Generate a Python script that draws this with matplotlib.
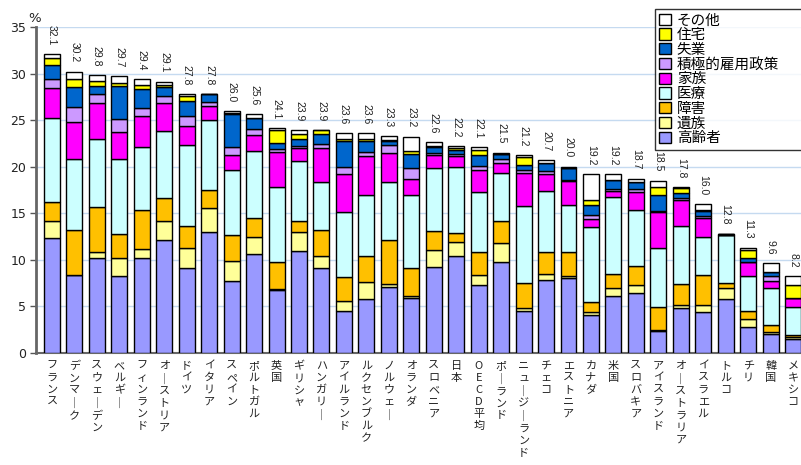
import matplotlib
matplotlib.use("Agg")
import matplotlib.pyplot as plt
import numpy as np

plt.rcParams['font.family'] = ['Noto Sans CJK JP', 'DejaVu Sans']

countries = ["フランス", "デンマーク", "スウェーデン", "ベルギー", "フィンランド",
             "オーストリア", "ドイツ", "イタリア", "スペイン", "ポルトガル", "英国",
             "ギリシャ", "ハンガリー", "アイルランド", "ルクセンブルク", "ノルウェー",
             "オランダ", "スロベニア", "日本", "OECD平均", "ポーランド",
             "ニュージーランド", "チェコ", "エストニア", "カナダ", "米国", "スロバキア",
             "アイスランド", "オーストラリア", "イスラエル", "トルコ", "チリ", "韓国",
             "メキシコ"]

totals = [32.1, 30.2, 29.8, 29.7, 29.4, 29.1, 27.8, 27.8, 26.0, 25.6, 24.1,
          23.9, 23.9, 23.6, 23.6, 23.3, 23.2, 22.6, 22.2, 22.1, 21.5, 21.2,
          20.7, 20.0, 19.2, 19.2, 18.7, 18.5, 17.8, 16.0, 12.8, 11.3, 9.6, 8.2]

# 高齢者
old_age = [12.3, 8.3, 10.2, 8.2, 10.2, 12.1, 9.1, 13.0, 7.7, 10.6, 6.7, 10.9,
           9.1, 4.5, 5.75, 7.1, 5.85, 9.25, 10.4, 7.3, 9.8, 4.5, 7.85, 8.0,
           4.05, 6.1, 6.4, 2.3, 4.85, 4.4, 5.8, 2.8, 2.0, 1.45]
# 遺族
survivors = [1.8, 0.0, 0.6, 2.0, 0.9, 2.0, 2.1, 2.6, 2.2, 1.8, 0.1, 2.1, 1.3,
             1.1, 1.9, 0.25, 0.25, 1.75, 1.5, 1.05, 2.0, 0.3, 0.65, 0.2, 0.35,
             0.8, 0.9, 0.1, 0.3, 0.75, 1.2, 0.8, 0.25, 0.25]
# 障害
disability = [2.1, 4.9, 4.9, 2.55, 4.2, 2.5, 2.45, 1.9, 2.7, 2.1, 3.0, 1.2,
              2.8, 2.5, 2.75, 4.8, 3.0, 2.1, 0.95, 2.45, 2.3, 2.7, 2.3, 2.6,
              1.0, 1.55, 2.0, 2.5, 2.25, 3.25, 0.5, 0.9, 0.75, 0.2]
# 医療
health = [9.0, 7.6, 7.3, 8.05, 6.8, 7.2, 8.65, 7.5, 7.0, 7.2, 8.0, 6.45, 5.1,
          7.0, 6.6, 6.15, 7.9, 6.8, 7.15, 6.45, 5.2, 8.3, 6.6, 5.1, 8.1, 8.25,
          6.0, 6.3, 6.25, 4.0, 5.2, 3.75, 4.0, 3.0]
# 家族
family = [3.2, 4.0, 3.8, 2.9, 3.3, 3.0, 2.1, 1.5, 1.6, 1.65, 3.75, 1.3, 3.7,
          4.15, 4.1, 3.2, 1.7, 1.3, 1.1, 2.4, 1.1, 3.5, 1.85, 2.5, 0.9, 0.65,
          2.0, 3.9, 2.75, 2.1, 0.0, 1.45, 0.7, 0.95]
# 積極的雇用政策
almp = [1.0, 1.6, 1.0, 1.4, 0.9, 0.8, 1.0, 0.4, 0.9, 0.65, 0.35, 0.25, 0.4,
        0.75, 0.45, 0.8, 1.15, 0.3, 0.3, 0.45, 0.4, 0.3, 0.25, 0.2, 0.4, 0.25,
        0.25, 0.15, 0.2, 0.2, 0.0, 0.1, 0.55, 0.0]
# 失業
unemployment = [1.5, 2.2, 0.9, 3.6, 2.0, 1.0, 1.7, 0.9, 3.6, 1.25, 0.6, 0.8,
                1.05, 2.7, 1.15, 0.4, 1.55, 0.6, 0.4, 1.15, 0.5, 0.6, 0.9, 1.2,
                1.1, 0.95, 0.75, 1.65, 0.6, 0.55, 0.05, 0.35, 0.45, 0.0]
# 住宅
housing = [0.8, 0.8, 0.5, 0.3, 0.5, 0.2, 0.5, 0.0, 0.1, 0.0, 1.4, 0.45, 0.45,
           0.3, 0.3, 0.2, 0.25, 0.1, 0.2, 0.55, 0.0, 0.85, 0.0, 0.0, 0.5, 0.0,
           0.05, 0.9, 0.45, 0.1, 0.0, 0.9, 0.0, 1.45]
# その他
other = [0.4, 0.8, 0.6, 0.7, 0.6, 0.3, 0.2, 0.0, 0.2, 0.35, 0.2, 0.45, 0.0,
         0.6, 0.6, 0.4, 1.55, 0.4, 0.2, 0.3, 0.2, 0.15, 0.3, 0.2, 2.8, 0.65,
         0.35, 0.7, 0.15, 0.65, 0.05, 0.25, 0.9, 0.9]

series = [
    ("高齢者", old_age, "#9999FF"),
    ("遺族", survivors, "#FFFF99"),
    ("障害", disability, "#FFC000"),
    ("医療", health, "#CCFFFF"),
    ("家族", family, "#FF00FF"),
    ("積極的雇用政策", almp, "#CC99FF"),
    ("失業", unemployment, "#0066CC"),
    ("住宅", housing, "#FFFF00"),
    ("その他", other, "#FFFFFF"),
]

fig = plt.figure(figsize=(8.01, 4.65), dpi=100)
W, H = 801, 465
ax = fig.add_axes([36 / W, (H - 352.7) / H, (806.5 - 36) / W, (352.7 - 27) / H])

x = np.arange(len(countries))
bottom = np.zeros(len(countries))
handles = []
for name, vals, col in series:
    vals = np.array(vals)
    b = ax.bar(x, vals, 0.71, bottom=bottom, color=col, edgecolor="black",
               linewidth=1.0, label=name, zorder=3)
    handles.append(b)
    bottom += vals

# 合計値のラベル（縦書き）
for xi, t in zip(x, totals):
    ax.annotate(f"{t:.1f}", (xi, t), xytext=(0, 9), textcoords="offset pixels",
                ha="center", va="bottom", rotation=-90, fontsize=7.5,
                family="Liberation Sans", color="#222222")

ax.set_xlim(-0.713, 33.6)
ax.set_ylim(0, 35)
ax.set_yticks(range(0, 36, 5))
ax.tick_params(axis="y", labelsize=9, length=4, width=1, color="#555555",
               labelcolor="#222222", pad=3)
for lab in ax.get_yticklabels():
    lab.set_family("DejaVu Sans")
ax.set_xticks(x)
ax.set_xticklabels(["\n".join(c.replace("ー", "｜")) for c in countries],
                   fontsize=8, linespacing=1.25, va="top", color="#222222")
ax.tick_params(axis="x", length=0, pad=6)

ax.grid(axis="y", color="#C5DAF0", linewidth=1.0, zorder=0)
ax.set_axisbelow(True)
for s in ("top", "right"):
    ax.spines[s].set_visible(False)
ax.spines["left"].set_color("#666666")
ax.spines["left"].set_linewidth(2)
ax.spines["bottom"].set_color("#666666")
ax.spines["bottom"].set_linewidth(1.5)

fig.text(35 / W, 1 - 18 / H, "%", ha="center", va="center", fontsize=9.5,
         family="DejaVu Sans", color="#222222")

leg = fig.legend(handles[::-1], [s[0] for s in series][::-1],
                 loc="upper left", bbox_to_anchor=(655 / W, 1 - 147 / H, 160 / W, 138 / H),
                 mode="expand", borderaxespad=0, fontsize=10.5, frameon=True,
                 fancybox=False, edgecolor="black", handlelength=0.8,
                 handleheight=0.8, handletextpad=0.4, labelspacing=0.05,
                 borderpad=0.3)
leg.get_frame().set_linewidth(1.0)

fig.savefig("out.png", dpi=100)
